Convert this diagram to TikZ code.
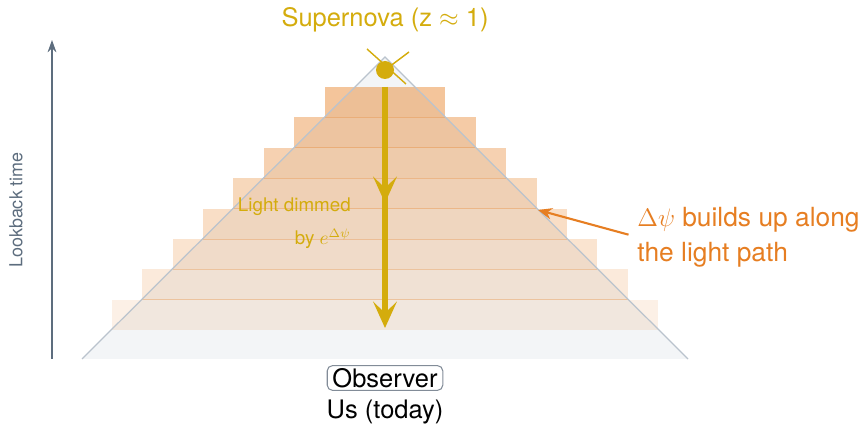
\documentclass[tikz,border=0pt]{standalone}
\usepackage{fontspec}
\setmainfont{TeX Gyre Heros}
\usepackage{amsmath}
\usetikzlibrary{arrows.meta}

\definecolor{gold}{RGB}{212,172,13}
\definecolor{rust}{RGB}{230,126,34}
\definecolor{slate}{RGB}{93,109,126}
\definecolor{conegray}{RGB}{186,195,205}
\definecolor{conefill}{RGB}{243,245,247}
\definecolor{boxgray}{RGB}{130,140,152}

\tikzset{
  lightpath/.style={gold, line width=3.3pt, -{Stealth[length=15pt, width=13.5pt, inset=6.5pt]}},
  layer/.style={fill=rust, draw=none},
  bigtext/.style={font=\fontsize{14.5}{19.8}\selectfont},
  smalltext/.style={font=\fontsize{10.7}{18.7}\selectfont}
}

\begin{document}
\begin{tikzpicture}[x=0.02cm, y=-0.02cm]
\useasboundingbox (0,0) rectangle (866,425);

% light cone
\coordinate (apex) at (385,57);
\coordinate (bl) at (82,359);
\coordinate (br) at (688,359);
\fill[conefill] (apex)--(bl)--(br)--cycle;

\foreach \i in {0,...,7}{
  \pgfmathsetmacro{\yt}{87+30.4*\i}
  \pgfmathsetmacro{\yb}{\yt+30.4}
  \pgfmathsetmacro{\hw}{\yb-57}
  \pgfmathsetmacro{\op}{0.45-0.048*\i}
  \fill[layer, opacity=\op] (385-\hw,\yt) rectangle (385+\hw,\yb);
}
\foreach \i in {0,...,6}{
  \pgfmathsetmacro{\yb}{117.4+30.4*\i}
  \pgfmathsetmacro{\hw}{\yb-57}
  \draw[rust, opacity=0.3, line width=0.5pt] (385-\hw,\yb)--(385+\hw,\yb);
}
\draw[conegray, line width=0.7pt] (bl)--(apex)--(br);

% time axis
\coordinate (t0) at (52,359);
\coordinate (t1) at (52,40);
\draw[slate, line width=0.8pt, -{Stealth[length=7pt, width=5pt]}] (t0)--(t1);
\node[slate, rotate=90, font=\fontsize{10.2}{12}\selectfont] (lookback) at (16,210) {Lookback time};

% supernova
\node[gold, bigtext] (snlabel) at (385,20) {Supernova (z $\approx$ 1)};
\draw[gold, line width=0.8pt] (367,49)--(406,84);
\draw[gold, line width=0.8pt] (409,52)--(385,70);
\node[circle, fill=gold, inner sep=0pt, minimum size=0.36cm] (sn) at (385,70) {};

% light path
\coordinate (pathtop) at (385,87);
\coordinate (pathmid) at (385,203);
\coordinate (pathend) at (385,328);
\draw[lightpath] (pathtop)--(pathend);
\draw[lightpath] (pathtop)--(pathmid);
\node[gold, smalltext, align=right, anchor=east] (dimmed) at (357,223) {Light dimmed\\by $e^{\Delta\psi}$};

% annotation
\node[rust, font=\fontsize{15}{19.8}\selectfont, align=left, anchor=west, inner sep=0pt] (buildup) at (637,237) {$\Delta\psi$ builds up along\\the light path};
\coordinate (conept) at (538,210);
\draw[rust, line width=1.2pt, -{Stealth[length=8pt, width=6.5pt]}, shorten <=5pt] (buildup.west)--(conept);

% observer
\node[draw=boxgray, rounded corners=3pt, line width=0.6pt, inner xsep=3pt, inner ysep=1.5pt, bigtext] (obs) at (385,378) {Observer};
\node[bigtext] (us) at (385,412) {Us (today)};
\end{tikzpicture}
\end{document}
